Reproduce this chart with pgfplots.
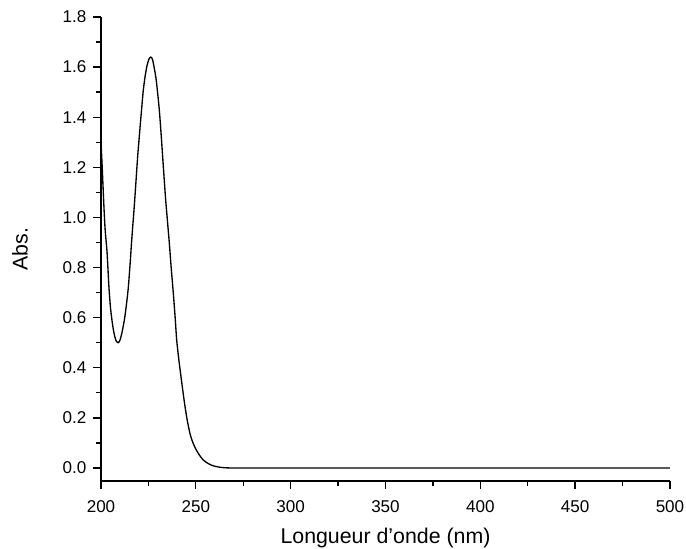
\documentclass[border=0pt]{standalone}
\usepackage{pgfplots}
\pgfplotsset{compat=1.18}
\usepackage{fontspec}
\setmainfont{Liberation Sans}
\begin{document}
\begin{tikzpicture}
\path[use as bounding box] (-75.75pt,-51pt) rectangle (438.75pt,360.75pt);
\begin{axis}[
  at={(0,0)}, anchor=south west,
  scale only axis,
  width=426.75pt, height=348pt,
  xmin=200, xmax=500, ymin=-0.052, ymax=1.8,
  axis x line*=bottom, axis y line*=left,
  axis line style={-, line width=1.3pt},
  xtick={200,250,...,500},
  ytick={0,0.2,...,1.8},
  minor tick num=1,
  tick align=outside,
  major tick length=6pt, minor tick length=3.5pt,
  tick style={line width=1pt, black},
  /pgf/number format/assume math mode=true,
  ticklabel style={font=\fontsize{12.8}{15}\selectfont},
  yticklabel style={/pgf/number format/fixed, /pgf/number format/fixed zerofill, /pgf/number format/precision=1, xshift=-1.5pt},
  xticklabel style={/pgf/number format/1000 sep={}, yshift=-5pt},
  xlabel={Longueur d’onde (nm)},
  ylabel={Abs.},
  label style={font=\fontsize{16}{18}\selectfont},
  xlabel style={at={(axis description cs:0.5,-0.1228)}, anchor=center},
  ylabel style={at={(axis description cs:-0.1424,0.5)}, anchor=center},
]
\addplot[black, line width=1pt, smooth, tension=0.4] table {
x y
200 1.30
200.7 1.19
201.5 1.05
202.2 0.95
203.2 0.86
204.2 0.72
205 0.64
206 0.577
207 0.533
208 0.507
209.1 0.500
210 0.510
211 0.538
212.3 0.590
213.3 0.645
214.4 0.720
215.4 0.820
216.2 0.910
217.5 1.040
218.5 1.150
219.4 1.250
220.6 1.360
221.5 1.440
222.3 1.508
223.3 1.565
224.3 1.607
225.3 1.632
226.2 1.640
227.1 1.632
228.0 1.600
229.0 1.555
229.7 1.508
230.5 1.450
231.1 1.395
232.0 1.300
232.8 1.210
234.0 1.080
235.1 0.980
236.0 0.900
237.0 0.800
238.1 0.700
239.1 0.600
239.9 0.511
241.0 0.435
242.0 0.375
243.2 0.305
244.3 0.245
245.6 0.185
246.9 0.138
248.0 0.110
249.2 0.088
250.4 0.070
252.0 0.050
253.9 0.032
256.0 0.020
258.3 0.011
260.5 0.006
262.7 0.003
265 0.001
270 0
300 0
350 0
400 0
450 0
500 0
};
\end{axis}
\end{tikzpicture}
\end{document}
